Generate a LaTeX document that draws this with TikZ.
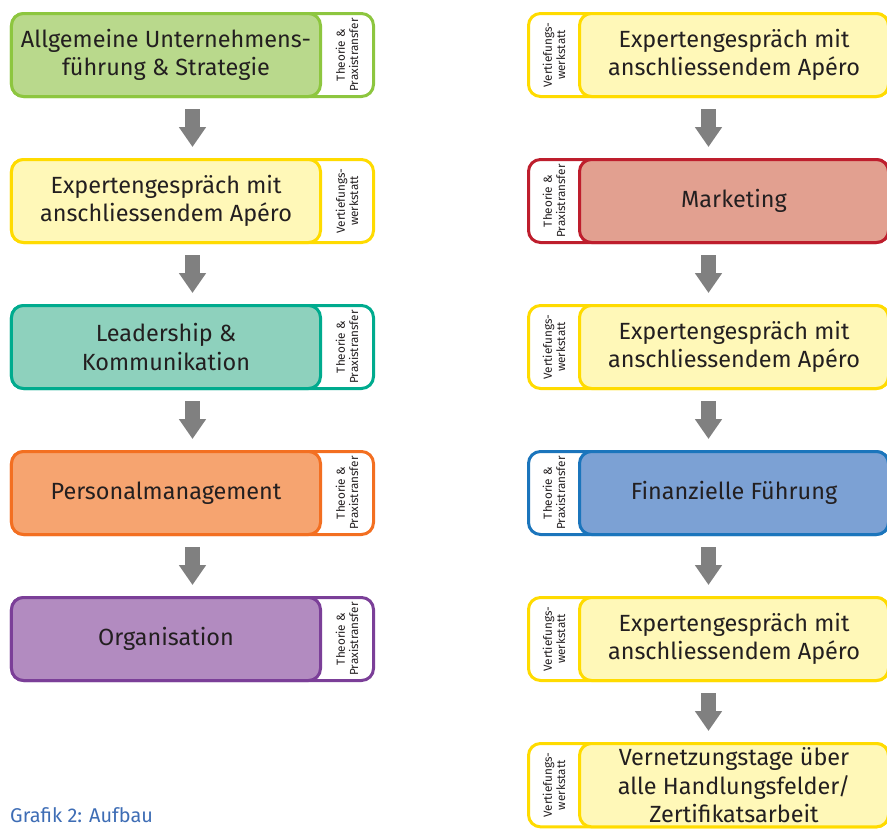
\documentclass[tikz,border=0pt]{standalone}
\usepackage{fontspec}
\setmainfont{Fira Sans}
\usepackage{xcolor}
\usepackage{tikz}
\usetikzlibrary{arrows.meta, positioning, fit, backgrounds}
\definecolor{grnline}{HTML}{8DC63F}
\definecolor{grnfill}{HTML}{B9D98C}
\definecolor{yelline}{HTML}{FFDB00}
\definecolor{yelfill}{HTML}{FFF8B8}
\definecolor{tealline}{HTML}{00AB8E}
\definecolor{tealfill}{HTML}{8ED1BD}
\definecolor{orline}{HTML}{F36F21}
\definecolor{orfill}{HTML}{F6A470}
\definecolor{purline}{HTML}{7B3F98}
\definecolor{purfill}{HTML}{B28BC0}
\definecolor{redline}{HTML}{BE1E2D}
\definecolor{redfill}{HTML}{E2A090}
\definecolor{bluline}{HTML}{1B75BC}
\definecolor{blufill}{HTML}{7CA1D4}
\definecolor{textgray}{HTML}{231F20}
\definecolor{arrowgray}{HTML}{808080}
\definecolor{capblue}{HTML}{3E6DB5}
\tikzstyle{mainbox} = [
    rectangle, rounded corners=0.36cm, line width=0.09cm,
    minimum width=9.27cm, minimum height=2.49cm,
    inner sep=1pt, outer sep=0pt,
    text centered, text=textgray,
    font=\fontsize{20}{24}\selectfont]
\tikzstyle{tabtext} = [
    rectangle, rotate=90, inner sep=0pt, outer sep=0pt,
    minimum width=2.49cm, text=textgray,
    font=\fontsize{10}{11.5}\selectfont]
\tikzstyle{outerbox} = [
    rectangle, rounded corners=0.36cm, line width=0.09cm,
    fill=white, inner sep=0pt, outer sep=0pt]
\tikzstyle{downarrow} = [
    draw=arrowgray, line width=0.45cm,
    -{Triangle[width=0.78cm, length=0.6cm]},
    shorten <=0.375cm, shorten >=0.375cm]

\begin{document}
\begin{tikzpicture}[every node/.style={align=center}]
  \useasboundingbox (0,0) rectangle (26.61,-24.84);

  % left column
  \node (m1) [mainbox, draw=grnline, fill=grnfill] at (4.98,-1.65)
      {Allgemeine Unternehmens-\\führung \& Strategie};
  \node (m2) [mainbox, draw=yelline, fill=yelfill, below=1.89cm of m1]
      {Expertengespräch mit\\anschliessendem Apéro};
  \node (m3) [mainbox, draw=tealline, fill=tealfill, below=1.89cm of m2]
      {Leadership \&\\Kommunikation};
  \node (m4) [mainbox, draw=orline, fill=orfill, below=1.89cm of m3]
      {Personalmanagement};
  \node (m5) [mainbox, draw=purline, fill=purfill, below=1.89cm of m4]
      {Organisation};

  \node (t1) [tabtext, minimum height=1.59cm, anchor=north] at (m1.east)
      {Theorie \&\\Praxistransfer};
  \node (t2) [tabtext, minimum height=1.59cm, anchor=north] at (m2.east)
      {Vertiefungs-\\werkstatt};
  \node (t3) [tabtext, minimum height=1.59cm, anchor=north] at (m3.east)
      {Theorie \&\\Praxistransfer};
  \node (t4) [tabtext, minimum height=1.59cm, anchor=north] at (m4.east)
      {Theorie \&\\Praxistransfer};
  \node (t5) [tabtext, minimum height=1.59cm, anchor=north] at (m5.east)
      {Theorie \&\\Praxistransfer};

  % right column
  \node (r1) [mainbox, draw=yelline, fill=yelfill] at (22.02,-1.65)
      {Expertengespräch mit\\anschliessendem Apéro};
  \node (r2) [mainbox, draw=redline, fill=redfill, below=1.89cm of r1]
      {Marketing};
  \node (r3) [mainbox, draw=yelline, fill=yelfill, below=1.89cm of r2]
      {Expertengespräch mit\\anschliessendem Apéro};
  \node (r4) [mainbox, draw=bluline, fill=blufill, below=1.89cm of r3]
      {Finanzielle Führung};
  \node (r5) [mainbox, draw=yelline, fill=yelfill, below=1.89cm of r4]
      {Expertengespräch mit\\anschliessendem Apéro};
  \node (r6) [mainbox, draw=yelline, fill=yelfill, below=1.89cm of r5,
      minimum height=2.5cm]
      {Vernetzungstage über\\alle Handlungsfelder/\\Zertifikatsarbeit};

  \node (s1) [tabtext, minimum height=1.53cm, anchor=south] at (r1.west)
      {Vertiefungs-\\werkstatt};
  \node (s2) [tabtext, minimum height=1.53cm, anchor=south] at (r2.west)
      {Theorie \&\\Praxistransfer};
  \node (s3) [tabtext, minimum height=1.53cm, anchor=south] at (r3.west)
      {Vertiefungs-\\werkstatt};
  \node (s4) [tabtext, minimum height=1.53cm, anchor=south] at (r4.west)
      {Theorie \&\\Praxistransfer};
  \node (s5) [tabtext, minimum height=1.53cm, anchor=south] at (r5.west)
      {Vertiefungs-\\werkstatt};
  \node (s6) [tabtext, minimum height=1.53cm, minimum width=2.5cm,
      anchor=south] at (r6.west)
      {Vertiefungs-\\werkstatt};

  % outer frames behind
  \begin{scope}[on background layer]
    \node (f1) [outerbox, draw=grnline, fit=(m1)(t1)] {};
    \node (f2) [outerbox, draw=yelline, fit=(m2)(t2)] {};
    \node (f3) [outerbox, draw=tealline, fit=(m3)(t3)] {};
    \node (f4) [outerbox, draw=orline, fit=(m4)(t4)] {};
    \node (f5) [outerbox, draw=purline, fit=(m5)(t5)] {};
    \node (g1) [outerbox, draw=yelline, fit=(r1)(s1)] {};
    \node (g2) [outerbox, draw=redline, fit=(r2)(s2)] {};
    \node (g3) [outerbox, draw=yelline, fit=(r3)(s3)] {};
    \node (g4) [outerbox, draw=bluline, fit=(r4)(s4)] {};
    \node (g5) [outerbox, draw=yelline, fit=(r5)(s5)] {};
    \node (g6) [outerbox, draw=yelline, fit=(r6)(s6)] {};
  \end{scope}

  \draw [downarrow] (f1) -- (f2);
  \draw [downarrow] (f2) -- (f3);
  \draw [downarrow] (f3) -- (f4);
  \draw [downarrow] (f4) -- (f5);
  \draw [downarrow] (g1) -- (g2);
  \draw [downarrow] (g2) -- (g3);
  \draw [downarrow] (g3) -- (g4);
  \draw [downarrow] (g4) -- (g5);
  \draw [downarrow] (g5) -- (g6);

  \node (caption) [anchor=base west, inner sep=0pt, text=capblue,
      font=\fontsize{17}{20}\selectfont] at (0.3,-24.68) {Grafik 2: Aufbau};

\end{tikzpicture}
\end{document}
